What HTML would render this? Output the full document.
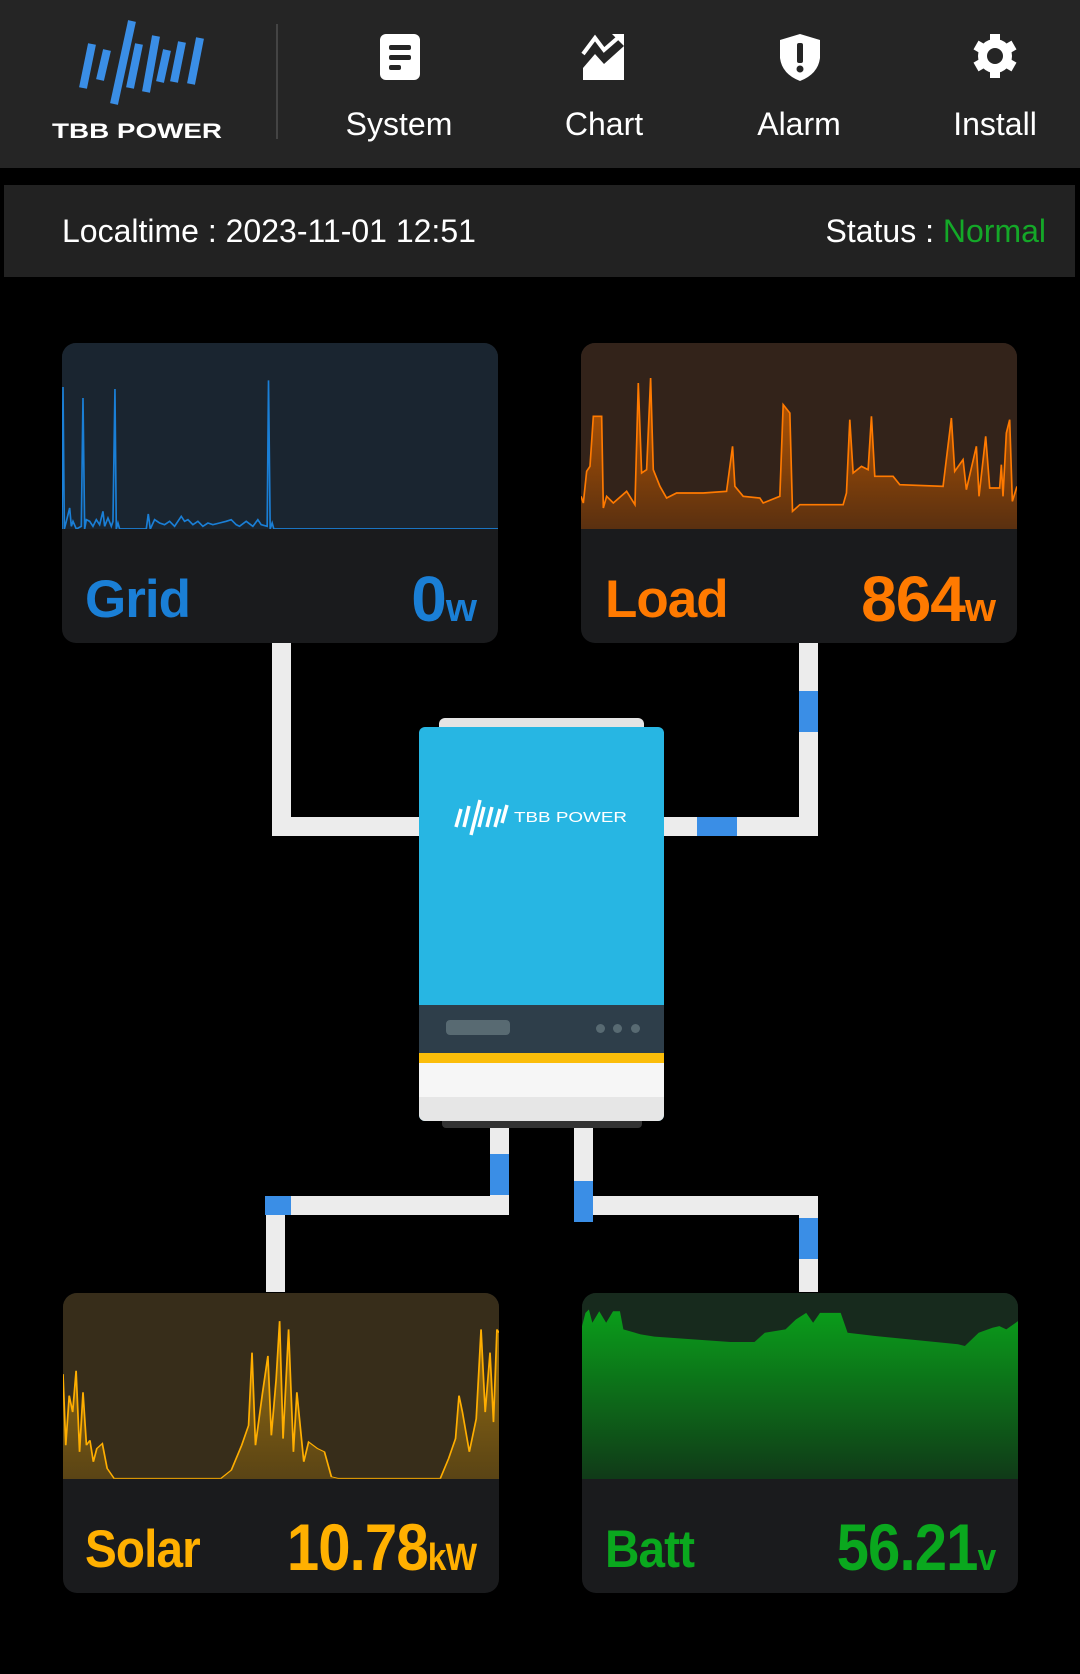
<!DOCTYPE html>
<html><head><meta charset="utf-8"><style>
*{margin:0;padding:0;box-sizing:border-box}
body{width:1080px;height:1674px;background:#000;position:relative;overflow:hidden;font-family:"Liberation Sans",sans-serif}
.abs{position:absolute}
.hdr{left:0;top:0;width:1080px;height:168px;background:#252525}
.nav{color:#fff;font-size:32px;text-align:center;width:160px}
.bar{left:4px;top:185px;width:1071px;height:92px;background:#222}
.card{width:436px;border-radius:14px;overflow:hidden;background:#1a1b1d}
.chart{position:absolute;left:0;top:0;width:436px;height:186px}
.lbl{position:absolute;font-weight:bold;letter-spacing:-1px}
.w{background:#ececec;position:absolute}
.b{background:#3a8ee6;position:absolute}
</style></head><body>
<div class="abs hdr"></div>
<!-- logo -->
<svg class="abs" style="left:50px;top:18px" width="180" height="124" viewBox="0 0 180 124">
<g stroke="#3a8ee6" stroke-width="8">
<line x1="33" y1="70" x2="42" y2="26"/><line x1="50" y1="62" x2="57" y2="32"/>
<line x1="64" y1="86" x2="82" y2="3"/><line x1="80" y1="70" x2="89" y2="26"/>
<line x1="96" y1="74" x2="106" y2="18"/><line x1="110" y1="64" x2="117" y2="32"/>
<line x1="124" y1="64" x2="132" y2="24"/><line x1="141" y1="66" x2="150" y2="20"/></g>
<text x="2" y="120" fill="#fff" font-size="21" font-family="Liberation Sans" font-weight="bold" textLength="170" lengthAdjust="spacingAndGlyphs">TBB POWER</text>
</svg>
<div class="abs" style="left:276px;top:24px;width:2px;height:115px;background:#444"></div>
<!-- icons -->
<svg class="abs" style="left:378px;top:32px" width="44" height="50"><rect x="2" y="2" width="40" height="46" rx="6" fill="#fff"/><rect x="11" y="13" width="22" height="5" rx="2" fill="#252525"/><rect x="11" y="23" width="22" height="5" rx="2" fill="#252525"/><rect x="11" y="33" width="12" height="5" rx="2" fill="#252525"/></svg>
<svg class="abs" style="left:580px;top:32px" width="48" height="50"><polyline points="3,22 15,6 24,18 40,4" fill="none" stroke="#fff" stroke-width="4"/><polygon points="32,2 44,2 44,14" fill="#fff"/><polygon points="3,48 3,36 15,22 24,32 44,14 44,48" fill="#fff"/></svg>
<svg class="abs" style="left:778px;top:32px" width="44" height="50"><path d="M22 2 L42 8 L42 26 Q40 42 22 49 Q4 42 2 26 L2 8 Z" fill="#fff"/><rect x="19" y="11" width="6" height="20" rx="2" fill="#252525"/><circle cx="22" cy="37" r="3.5" fill="#252525"/></svg>
<svg class="abs" style="left:971px;top:32px" width="48" height="48" viewBox="0 0 48 48"><g fill="#fff"><circle cx="24" cy="24" r="17"/><g stroke="#fff" stroke-width="10"><line x1="24" y1="2" x2="24" y2="46"/><line x1="5" y1="13" x2="43" y2="35"/><line x1="5" y1="35" x2="43" y2="13"/></g></g><circle cx="24" cy="24" r="8" fill="#252525"/></svg>
<div class="abs nav" style="left:319px;top:106px">System</div>
<div class="abs nav" style="left:524px;top:106px">Chart</div>
<div class="abs nav" style="left:719px;top:106px">Alarm</div>
<div class="abs nav" style="left:915px;top:106px">Install</div>
<div class="abs bar"></div>
<div class="abs" style="left:62px;top:213px;color:#fff;font-size:32px">Localtime : 2023-11-01 12:51</div>
<div class="abs" style="right:34px;top:213px;color:#fff;font-size:32px">Status : <span style="color:#14a828">Normal</span></div>

<!-- connectors -->
<div class="w" style="left:272px;top:643px;width:19px;height:193px"></div>
<div class="w" style="left:272px;top:817px;width:147px;height:19px"></div>
<div class="w" style="left:799px;top:643px;width:19px;height:193px"></div>
<div class="w" style="left:664px;top:817px;width:154px;height:19px"></div>
<div class="b" style="left:799px;top:691px;width:19px;height:41px"></div>
<div class="b" style="left:697px;top:817px;width:40px;height:19px"></div>
<div class="w" style="left:490px;top:1121px;width:19px;height:94px"></div>
<div class="w" style="left:265px;top:1196px;width:244px;height:19px"></div>
<div class="w" style="left:266px;top:1196px;width:19px;height:96px"></div>
<div class="b" style="left:490px;top:1154px;width:19px;height:41px"></div>
<div class="b" style="left:265px;top:1196px;width:26px;height:19px"></div>
<div class="w" style="left:574px;top:1121px;width:19px;height:94px"></div>
<div class="w" style="left:574px;top:1196px;width:244px;height:19px"></div>
<div class="w" style="left:799px;top:1196px;width:19px;height:96px"></div>
<div class="b" style="left:574px;top:1181px;width:19px;height:41px"></div>
<div class="b" style="left:799px;top:1218px;width:19px;height:41px"></div>

<!-- inverter -->
<div class="abs" style="left:439px;top:718px;width:205px;height:14px;background:#e4e4e4;border-radius:6px 6px 0 0"></div>
<div class="abs" style="left:419px;top:727px;width:245px;height:394px;border-radius:6px;overflow:hidden;background:#27b6e3">
 <div class="abs" style="left:0;top:278px;width:245px;height:48px;background:#2e3e4a"></div>
 <div class="abs" style="left:27px;top:293px;width:64px;height:15px;border-radius:4px;background:#586a72"></div>
 <div class="abs" style="left:177px;top:297px;width:9px;height:9px;border-radius:50%;background:#586a72"></div>
 <div class="abs" style="left:194px;top:297px;width:9px;height:9px;border-radius:50%;background:#586a72"></div>
 <div class="abs" style="left:212px;top:297px;width:9px;height:9px;border-radius:50%;background:#586a72"></div>
 <div class="abs" style="left:0;top:326px;width:245px;height:10px;background:#fbbd0a"></div>
 <div class="abs" style="left:0;top:336px;width:245px;height:34px;background:#f6f6f6"></div>
 <div class="abs" style="left:0;top:370px;width:245px;height:24px;background:#e6e6e6"></div>
 <svg class="abs" style="left:35px;top:72px" width="210" height="40"><g stroke="#fff" stroke-width="3.5"><line x1="2" y1="28" x2="7" y2="10"/><line x1="10" y1="28" x2="15" y2="7"/><line x1="17" y1="36" x2="26" y2="1"/><line x1="25" y1="28" x2="30" y2="8"/><line x1="33" y1="28" x2="38" y2="8"/><line x1="41" y1="28" x2="46" y2="10"/><line x1="48" y1="24" x2="53" y2="6"/></g><text x="60" y="23" fill="#fff" font-size="15" font-family="Liberation Sans" textLength="113" lengthAdjust="spacingAndGlyphs">TBB POWER</text></svg>
</div>
<div class="abs" style="left:442px;top:1121px;width:200px;height:7px;background:#333;border-radius:0 0 4px 4px"></div>

<!-- Grid card -->
<div class="abs card" style="left:62px;top:343px;height:300px">
 <svg class="chart" viewBox="67 10 1309 558" preserveAspectRatio="none"><rect x="0" y="0" width="1500" height="600" fill="#1a2530"/>
 <polyline fill="none" stroke="#1a7fd6" stroke-width="5" points="67,568 70,142 74,568 80,545 90,505 95,560 100,545 110,568 125,560 130,175 135,568 140,540 150,545 160,560 170,540 180,555 190,515 195,560 205,535 215,560 220,545 226,148 230,568 235,550 240,568 320,568 326,523 332,568 345,540 360,550 375,555 390,545 405,560 425,530 435,545 445,540 460,555 475,545 490,560 505,550 520,555 540,550 560,545 575,540 590,555 600,560 620,545 640,560 655,540 665,555 683,560 687,122 692,568 698,550 703,568 1376,568"/></svg>
 <div class="lbl" style="left:23px;top:226px;font-size:53px;color:#1a7fd6">Grid</div>
 <div class="lbl" style="right:22px;top:219px;font-size:64px;color:#1a7fd6">0<span style="font-size:40px">w</span></div>
</div>

<!-- Load card -->
<div class="abs card" style="left:581px;top:343px;height:300px">
 <svg class="chart" viewBox="63 10 1309 558" preserveAspectRatio="none"><defs><linearGradient id="lg" x1="0" y1="0" x2="0" y2="1"><stop offset="0" stop-color="#c05a00"/><stop offset="1" stop-color="#5a3010"/></linearGradient></defs><rect x="0" y="0" width="1500" height="600" fill="#33231a"/>
 <polygon fill="url(#lg)" points="63,568 63,470 70,490 80,395 90,380 100,230 125,230 130,505 140,470 160,490 200,455 225,495 235,130 245,400 260,390 272,115 280,390 300,440 320,475 350,460 430,460 500,455 518,320 525,440 550,470 600,475 610,490 660,470 670,195 690,220 698,515 720,495 850,495 860,460 870,240 880,400 905,380 925,390 935,230 945,410 1000,410 1020,435 1150,440 1175,235 1185,395 1210,360 1220,450 1250,320 1258,470 1278,290 1290,445 1320,445 1325,375 1330,470 1340,280 1350,240 1358,485 1372,440 1372,568"/>
 <polyline fill="none" stroke="#ff7a00" stroke-width="5" points="63,470 70,490 80,395 90,380 100,230 125,230 130,505 140,470 160,490 200,455 225,495 235,130 245,400 260,390 272,115 280,390 300,440 320,475 350,460 430,460 500,455 518,320 525,440 550,470 600,475 610,490 660,470 670,195 690,220 698,515 720,495 850,495 860,460 870,240 880,400 905,380 925,390 935,230 945,410 1000,410 1020,435 1150,440 1175,235 1185,395 1210,360 1220,450 1250,320 1258,470 1278,290 1290,445 1320,445 1325,375 1330,470 1340,280 1350,240 1358,485 1372,440"/></svg>
 <div class="lbl" style="left:24px;top:226px;font-size:53px;color:#ff7a00">Load</div>
 <div class="lbl" style="right:22px;top:219px;font-size:64px;color:#ff7a00">864<span style="font-size:40px">w</span></div>
</div>

<!-- Solar card -->
<div class="abs card" style="left:63px;top:1293px;height:300px">
 <svg class="chart" viewBox="91 40 632 562" preserveAspectRatio="none"><defs><linearGradient id="sg" x1="0" y1="0" x2="0" y2="1"><stop offset="0" stop-color="#9a7010"/><stop offset="1" stop-color="#5a4415"/></linearGradient></defs><rect x="0" y="0" width="1000" height="700" fill="#372d1a"/>
 <polygon fill="url(#sg)" points="91,602 91,285 95,500 100,350 105,400 110,275 115,520 120,340 125,500 130,485 135,550 140,510 148,495 155,570 165,600 320,600 335,575 350,500 360,440 365,220 370,500 380,345 388,230 393,470 400,300 405,125 410,480 418,150 425,520 430,340 440,550 447,490 460,510 470,520 480,595 490,600 638,600 650,540 660,480 665,350 670,400 680,520 690,420 697,150 703,400 710,220 715,430 720,150 723,160 723,602"/>
 <polyline fill="none" stroke="#ffae00" stroke-width="2.5" points="91,285 95,500 100,350 105,400 110,275 115,520 120,340 125,500 130,485 135,550 140,510 148,495 155,570 165,600 320,600 335,575 350,500 360,440 365,220 370,500 380,345 388,230 393,470 400,300 405,125 410,480 418,150 425,520 430,340 440,550 447,490 460,510 470,520 480,595 490,600 638,600 650,540 660,480 665,350 670,400 680,520 690,420 697,150 703,400 710,220 715,430 720,150 723,160"/></svg>
 <div class="lbl" style="left:22px;top:226px;font-size:53px;color:#ffb000;transform:scaleX(.9);transform-origin:left">Solar</div>
 <div class="lbl" style="right:23px;top:216px;font-size:66px;color:#ffb000;transform:scaleX(.88);transform-origin:right">10.78<span style="font-size:38px">kW</span></div>
</div>

<!-- Batt card -->
<div class="abs card" style="left:582px;top:1293px;height:300px">
 <svg class="chart" viewBox="845 40 632 562" preserveAspectRatio="none"><defs><linearGradient id="bg" x1="0" y1="0" x2="0" y2="1"><stop offset="0" stop-color="#0a9e1a"/><stop offset="1" stop-color="#103a18"/></linearGradient></defs><rect x="0" y="0" width="2000" height="700" fill="#172a1d"/>
 <polygon fill="url(#bg)" points="845,602 845,140 850,100 855,90 860,130 870,95 880,130 890,95 900,95 905,150 930,165 950,172 1060,188 1095,188 1110,160 1140,150 1155,120 1170,100 1180,130 1190,100 1220,100 1230,160 1270,170 1390,195 1400,200 1420,160 1440,145 1450,140 1460,150 1477,125 1477,602"/></svg>
 <div class="lbl" style="left:23px;top:226px;font-size:53px;color:#0aa81e;transform:scaleX(.9);transform-origin:left">Batt</div>
 <div class="lbl" style="right:23px;top:216px;font-size:66px;color:#0aa81e;transform:scaleX(.88);transform-origin:right">56.21<span style="font-size:38px">v</span></div>
</div>
</body></html>
